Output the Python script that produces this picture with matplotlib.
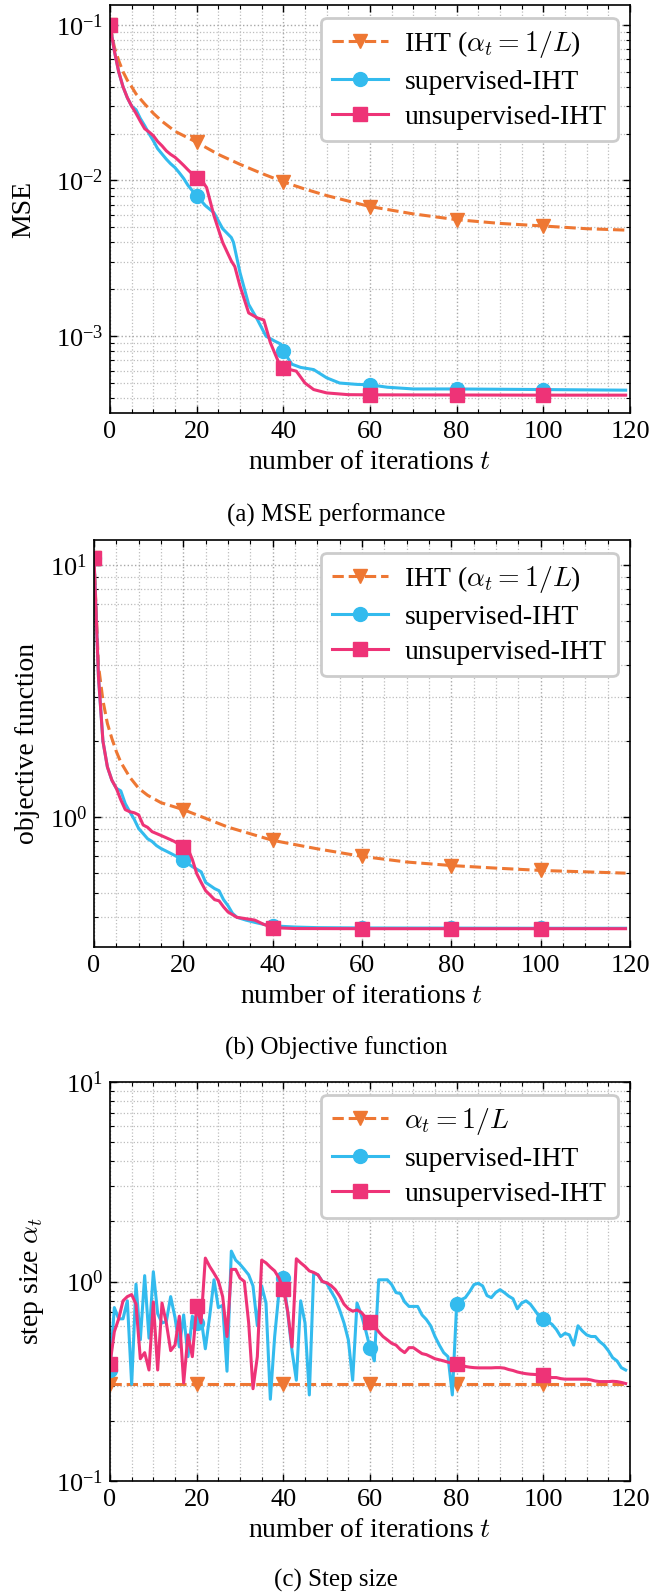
import matplotlib
matplotlib.use("Agg")
import matplotlib.pyplot as plt
import numpy as np
from matplotlib.ticker import MultipleLocator, LogLocator, NullFormatter

# ---------------- data ----------------
marker_t = [0, 20, 40, 60, 80, 100]

# (a) MSE
mse_iht_t = [0, 1, 2, 3, 4, 5, 6, 8, 10, 12, 15, 20, 25, 30, 35, 40, 45, 50, 60, 70, 80, 90, 100, 110, 119]
mse_iht = [0.1, 0.072, 0.059, 0.050, 0.044, 0.040, 0.036, 0.031, 0.027, 0.024, 0.0207, 0.0176, 0.0147,
           0.0127, 0.0111, 0.0098, 0.0088, 0.0080, 0.0068, 0.0061, 0.0056, 0.0053, 0.0051, 0.0049, 0.0048]

mse_sup_t = [0, 1, 2, 3, 4, 5, 6, 7, 8, 9, 10, 11, 12, 13, 14, 15, 16, 17, 18, 19, 20, 22, 24, 26, 28, 28.5,
             30, 32, 34, 36, 38, 39.4, 40, 42, 44, 47, 50, 53, 57, 60, 64, 70, 80, 100, 119]
mse_sup = [0.1, 0.068, 0.050, 0.040, 0.034, 0.030, 0.0285, 0.025, 0.0225, 0.020, 0.018, 0.016, 0.0148,
           0.0137, 0.0128, 0.0121, 0.0112, 0.0103, 0.0093, 0.0086, 0.0080, 0.0069, 0.0062, 0.0049, 0.0043,
           0.0040, 0.00256, 0.0016, 0.00128, 0.0010, 0.00093, 0.00089, 0.00080, 0.00066, 0.00063, 0.00061,
           0.00054, 0.00050, 0.00049, 0.000487, 0.00047, 0.000458, 0.000458, 0.000454, 0.00045]

mse_uns_t = [0, 1, 2, 3, 4, 5, 6, 7, 8, 9, 10, 11, 12, 13, 14, 15, 16, 17, 18, 19, 20, 21, 22.3, 24, 26,
             28, 28.8, 30, 32, 34, 35.5, 37, 39, 40, 43, 45, 47, 50, 55, 60, 80, 100, 119]
mse_uns = [0.1, 0.068, 0.050, 0.040, 0.034, 0.030, 0.027, 0.024, 0.0215, 0.0205, 0.0194, 0.0178, 0.0167,
           0.0155, 0.0147, 0.0141, 0.0133, 0.0125, 0.0117, 0.0110, 0.01045, 0.0102, 0.0090, 0.00593,
           0.0040, 0.00304, 0.0028, 0.0021, 0.00141, 0.00131, 0.00127, 0.00091, 0.00067, 0.000625,
           0.000596, 0.00050, 0.000454, 0.000432, 0.000421, 0.00042, 0.000419, 0.000418, 0.000418]

# (b) objective function
obj_iht_t = [0, 1, 2, 3, 4, 5, 6, 8, 10, 12, 15, 20, 30, 40, 50, 60, 70, 80, 90, 100, 119]
obj_iht = [10.7, 4.0, 2.9, 2.35, 2.05, 1.82, 1.65, 1.44, 1.30, 1.22, 1.14, 1.07, 0.912, 0.808, 0.748,
           0.698, 0.663, 0.642, 0.627, 0.614, 0.599]

obj_sup_t = [0, 1, 2, 3, 4, 5, 6, 7, 8, 9, 10, 11, 12, 13, 14, 15, 16, 17, 18, 19, 20, 22, 24, 25, 27,
             28, 29, 30, 31, 32, 34, 36, 38, 40, 45, 50, 60, 80, 100, 119]
obj_sup = [10.7, 3.6, 2.0, 1.58, 1.40, 1.30, 1.27, 1.13, 1.05, 0.98, 0.90, 0.86, 0.82, 0.80, 0.77, 0.75,
           0.735, 0.72, 0.705, 0.69, 0.673, 0.636, 0.606, 0.55, 0.52, 0.51, 0.47, 0.445, 0.415, 0.40,
           0.39, 0.382, 0.375, 0.370, 0.366, 0.364, 0.363, 0.3625, 0.362, 0.362]

obj_uns_t = [0, 1, 2, 3, 4, 5, 6, 7, 8, 9, 10, 11, 12, 13, 14, 15, 16, 17, 18, 19, 20, 21, 22, 23, 24,
             25, 26, 27, 28, 29, 30, 32, 34, 36, 38, 40, 45, 60, 80, 100, 119]
obj_uns = [10.7, 3.6, 2.0, 1.58, 1.40, 1.30, 1.17, 1.07, 1.05, 1.04, 1.02, 0.93, 0.91, 0.875, 0.86,
           0.845, 0.83, 0.815, 0.80, 0.78, 0.764, 0.75, 0.68, 0.596, 0.55, 0.51, 0.49, 0.47, 0.465,
           0.44, 0.42, 0.40, 0.395, 0.39, 0.375, 0.364, 0.361, 0.3605, 0.3605, 0.3605, 0.3605]

# (c) step size, one value per iteration t = 0..119
iters = list(range(120))
step_const = 0.305
step_sup = [0.36, 0.74, 0.65, 0.65, 0.80, 0.305, 0.97, 0.51, 1.07, 0.52,
            1.12, 0.69, 0.62, 0.63, 0.84, 0.66, 0.47, 0.68, 0.42, 0.67,
            0.62, 0.66, 0.46, 0.67, 1.02, 0.74, 0.76, 0.355, 1.42, 1.28,
            1.22, 1.15, 1.08, 0.95, 0.60, 0.95, 0.78, 0.257, 0.53, 0.89,
            1.04, 0.70, 0.45, 0.32, 0.80, 0.62, 0.27, 1.10, 1.08, 1.00,
            0.98, 0.895, 0.82, 0.72, 0.62, 0.51, 0.32, 0.78, 0.68, 0.57,
            0.465, 0.40, 1.02, 1.02, 1.02, 0.965, 0.88, 0.87, 0.79, 0.75,
            0.75, 0.75, 0.68, 0.645, 0.60, 0.53, 0.48, 0.44, 0.42, 0.27,
            0.767, 0.81, 0.83, 0.89, 0.965, 0.98, 0.95, 0.85, 0.83, 0.88,
            0.91, 0.88, 0.845, 0.82, 0.73, 0.78, 0.80, 0.77, 0.72, 0.67,
            0.65, 0.63, 0.61, 0.575, 0.53, 0.55, 0.54, 0.48, 0.60, 0.565,
            0.54, 0.53, 0.53, 0.50, 0.48, 0.45, 0.415, 0.40, 0.37, 0.36]
step_uns = [0.385, 0.56, 0.65, 0.80, 0.84, 0.86, 0.77, 0.41, 0.44, 0.36,
            0.79, 0.36, 0.78, 0.62, 0.45, 0.48, 0.67, 0.31, 0.54, 0.42,
            0.75, 0.62, 1.31, 1.19, 1.10, 1.01, 0.84, 0.53, 1.15, 1.15,
            1.04, 1.00, 0.62, 0.29, 0.42, 1.28, 1.24, 1.18, 1.13, 1.04,
            0.92, 0.71, 0.47, 1.30, 1.24, 1.19, 1.13, 1.11, 1.08, 1.00,
            0.985, 0.955, 0.91, 0.845, 0.77, 0.73, 0.71, 0.72, 0.70, 0.66,
            0.63, 0.60, 0.56, 0.53, 0.51, 0.49, 0.48, 0.456, 0.44, 0.466,
            0.466, 0.45, 0.435, 0.43, 0.42, 0.41, 0.405, 0.40, 0.394, 0.39,
            0.388, 0.383, 0.375, 0.372, 0.370, 0.369, 0.369, 0.369, 0.369, 0.37,
            0.37, 0.368, 0.362, 0.358, 0.352, 0.348, 0.345, 0.343, 0.342, 0.341,
            0.338, 0.332, 0.330, 0.330, 0.326, 0.324, 0.324, 0.324, 0.324, 0.324,
            0.324, 0.321, 0.317, 0.315, 0.315, 0.315, 0.316, 0.315, 0.312, 0.308]

labels_ab = [r"IHT ($\alpha_t = 1/L$)", "supervised-IHT", "unsupervised-IHT"]
labels_c = [r"$\alpha_t = 1/L$", "supervised-IHT", "unsupervised-IHT"]
captions = ["(a) MSE performance", "(b) Objective function", "(c) Step size"]
ylabels = ["MSE", "objective function", r"step size $\alpha_t$"]
xlabel = r"number of iterations $t$"

C_OR, C_BL, C_MG = "#EE7733", "#33BBEE", "#EE3377"

# ---------------- style ----------------
plt.rcParams.update({
    "font.family": "serif",
    "font.serif": ["Liberation Serif", "DejaVu Serif"],
    "mathtext.fontset": "cm",
    "axes.linewidth": 1.2,
    "xtick.direction": "in", "ytick.direction": "in",
    "xtick.top": True, "ytick.right": True,
    "xtick.major.size": 5, "ytick.major.size": 5,
    "xtick.minor.size": 3, "ytick.minor.size": 3,
    "xtick.major.width": 1.0, "ytick.major.width": 1.0,
    "xtick.minor.width": 0.8, "ytick.minor.width": 0.8,
    "xtick.major.pad": 6, "ytick.major.pad": 5,
    "xtick.labelsize": 19, "ytick.labelsize": 19,
})

W, H = 672, 1593
fig = plt.figure(figsize=(W / 100, H / 100), dpi=100)


def axes_px(left, top, right, bottom):
    return fig.add_axes([left / W, 1 - bottom / H, (right - left) / W, (bottom - top) / H])


ax_a = axes_px(110, 5, 630, 413)
ax_b = axes_px(94, 540, 630, 947)
ax_c = axes_px(110, 1082, 630, 1481)


def idx(tlist):
    return [tlist.index(m) for m in marker_t]


def style(ax, ylim, ylabel, ylab_x):
    ax.set_yscale("log")
    ax.set_xlim(0, 120)
    ax.set_ylim(*ylim)
    ax.xaxis.set_major_locator(MultipleLocator(20))
    ax.xaxis.set_minor_locator(MultipleLocator(5))
    ax.yaxis.set_minor_locator(LogLocator(base=10, subs=np.arange(2, 10), numticks=50))
    ax.yaxis.set_minor_formatter(NullFormatter())
    ax.grid(True, which="major", color="0.66", linestyle=":", linewidth=1.0)
    ax.grid(True, which="minor", color="0.74", linestyle=":", linewidth=0.9)
    ax.set_axisbelow(True)
    ax.set_xlabel(xlabel, fontsize=20, labelpad=5)
    ax.set_ylabel(ylabel, fontsize=20)
    ax.yaxis.set_label_coords(ylab_x, 0.5)


def legend(ax, labels):
    leg = ax.legend(labels, loc="upper right", fontsize=20, handlelength=2.0, handletextpad=0.6,
                    borderpad=0.4, labelspacing=0.35, borderaxespad=0.45, fancybox=True,
                    framealpha=1.0, edgecolor="0.8")
    leg.get_frame().set_linewidth(2.0)


lw, ms = 2.2, 10

# (a)
ax_a.plot(mse_iht_t, mse_iht, "--", color=C_OR, lw=lw, marker="v", ms=ms, markevery=idx(mse_iht_t))
ax_a.plot(mse_sup_t, mse_sup, "-", color=C_BL, lw=lw, marker="o", ms=ms, markevery=idx(mse_sup_t))
ax_a.plot(mse_uns_t, mse_uns, "-", color=C_MG, lw=lw, marker="s", ms=ms, markevery=idx(mse_uns_t))
style(ax_a, (3.21e-4, 0.134), ylabels[0], -0.141)
legend(ax_a, labels_ab)

# (b)
ax_b.plot(obj_iht_t, obj_iht, "--", color=C_OR, lw=lw, marker="v", ms=ms, markevery=idx(obj_iht_t))
ax_b.plot(obj_sup_t, obj_sup, "-", color=C_BL, lw=lw, marker="o", ms=ms, markevery=idx(obj_sup_t))
ax_b.plot(obj_uns_t, obj_uns, "-", color=C_MG, lw=lw, marker="s", ms=ms, markevery=idx(obj_uns_t))
style(ax_b, (0.305, 12.57), ylabels[1], -0.1015)
legend(ax_b, labels_ab)

# (c)
ax_c.plot(iters, [step_const] * len(iters), "--", color=C_OR, lw=lw, marker="v", ms=ms, markevery=idx(iters))
ax_c.plot(iters, step_sup, "-", color=C_BL, lw=lw, marker="o", ms=ms, markevery=idx(iters))
ax_c.plot(iters, step_uns, "-", color=C_MG, lw=lw, marker="s", ms=ms, markevery=idx(iters))
style(ax_c, (0.1, 10), ylabels[2], -0.123)
legend(ax_c, labels_c)

for ycap, cap in zip([515, 1048, 1580], captions):
    fig.text(0.5, 1 - ycap / H, cap, ha="center", va="center", fontsize=18)

fig.savefig("out.png", dpi=100)
